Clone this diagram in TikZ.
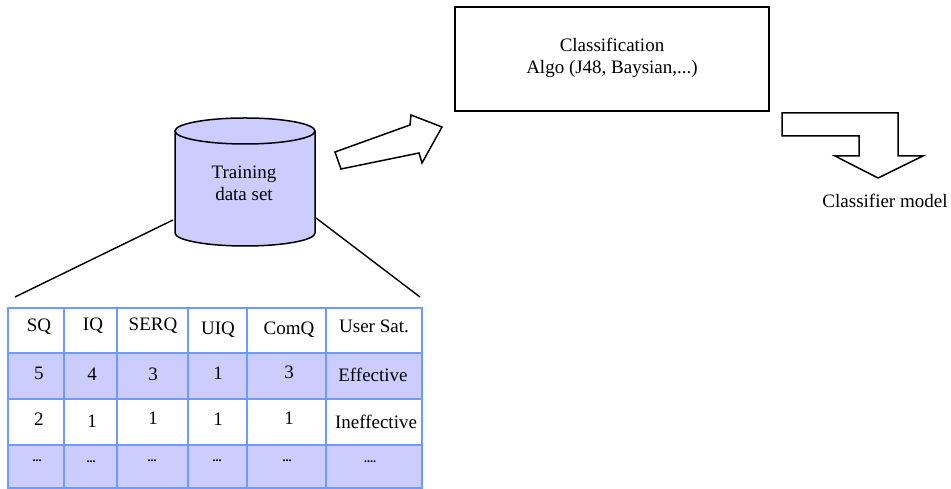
\documentclass[tikz,border=0pt]{standalone}
\usepackage{fontspec}
\setmainfont{Liberation Serif}
\definecolor{lav}{RGB}{204,204,255}
\definecolor{tblue}{RGB}{110,155,255}
\begin{document}
\begin{tikzpicture}[x=1pt,y=1pt,
  txt/.style={font=\fontsize{19}{22}\selectfont, inner sep=0pt, align=center},
  dots/.style={font=\fontsize{12}{12}\selectfont\bfseries, inner sep=0pt},
  outl/.style={draw=black, line width=1.5pt, line join=miter},
  grid/.style={draw=tblue, line width=2pt},
  conn/.style={draw=black, line width=1.4pt}]
\useasboundingbox (0,0) rectangle (951,489);
% cylinder
\fill[lav] (175,358) -- (175,256) arc[start angle=180,end angle=360,x radius=70,y radius=13] -- (315,358) arc[start angle=0,end angle=180,x radius=70,y radius=13] -- cycle;
\draw[outl] (175,358) -- (175,256) arc[start angle=180,end angle=360,x radius=70,y radius=13] -- (315,358);
\draw[outl] (245,358) ellipse[x radius=70,y radius=13];
\node[txt] (cyl) at (244,306) {Training\\data set};
\coordinate (cl) at (173,269);
\coordinate (cr) at (316,271);
% table
\coordinate (tl) at (15,192);
\coordinate (tr) at (420,192);
\draw[conn] (cl) -- (tl);
\draw[conn] (cr) -- (tr);
\fill[lav] (8,136) rectangle (422,90);
\fill[lav] (8,44) rectangle (422,1);
\draw[grid] (8,181) rectangle (422,1);
\foreach \y in {136,90,44} \draw[grid] (8,\y) -- (422,\y);
\foreach \x in {64,117,188,247,326} \draw[grid] (\x,181) -- (\x,1);
% header
\node[txt] (h1) at (39,162) {SQ};
\node[txt] (h2) at (93,163) {IQ};
\node[txt] (h3) at (153,163) {SERQ};
\node[txt] (h4) at (218,159) {UIQ};
\node[txt] (h5) at (289,159) {ComQ};
\node[txt] (h6) at (374,163) {User Sat.};
% row 2
\node[txt] (a1) at (39,116) {5};
\node[txt] (a2) at (92,115) {4};
\node[txt] (a3) at (153,115) {3};
\node[txt] (a4) at (218,116) {1};
\node[txt] (a5) at (289,117) {3};
\node[txt] (a6) at (373,114) {Effective};
% row 3
\node[txt] (b1) at (39,70) {2};
\node[txt] (b2) at (92,68) {1};
\node[txt] (b3) at (153,71) {1};
\node[txt] (b4) at (218,70) {1};
\node[txt] (b5) at (289,71) {1};
\node[txt] (b6) at (376,67) {Ineffective};
% row 4
\node[dots] (c1) at (37,28) {...};
\node[dots] (c2) at (91,27) {...};
\node[dots] (c3) at (152,28) {...};
\node[dots] (c4) at (217,28) {...};
\node[dots] (c5) at (287,28) {...};
\node[dots] (c6) at (370,27) {....};
% big arrow
\draw[outl] (335,337) -- (410,364) -- (411,374) -- (442,362) -- (422,326) -- (419,336) -- (341,320) -- cycle;
% classification box
\draw[outl] (455,482) rectangle (769,378);
\node[txt, align=center] (cls) at (612,431) {Classification\\Algo (J48, Baysian,...)};
% bent arrow
\draw[outl] (782,376) -- (898,376) -- (898,333) -- (923,333) -- (878,311) -- (835,333) -- (859,333) -- (859,353) -- (782,353) -- cycle;
\node[txt] (cm) at (885,288) {Classifier model};
\end{tikzpicture}
\end{document}
